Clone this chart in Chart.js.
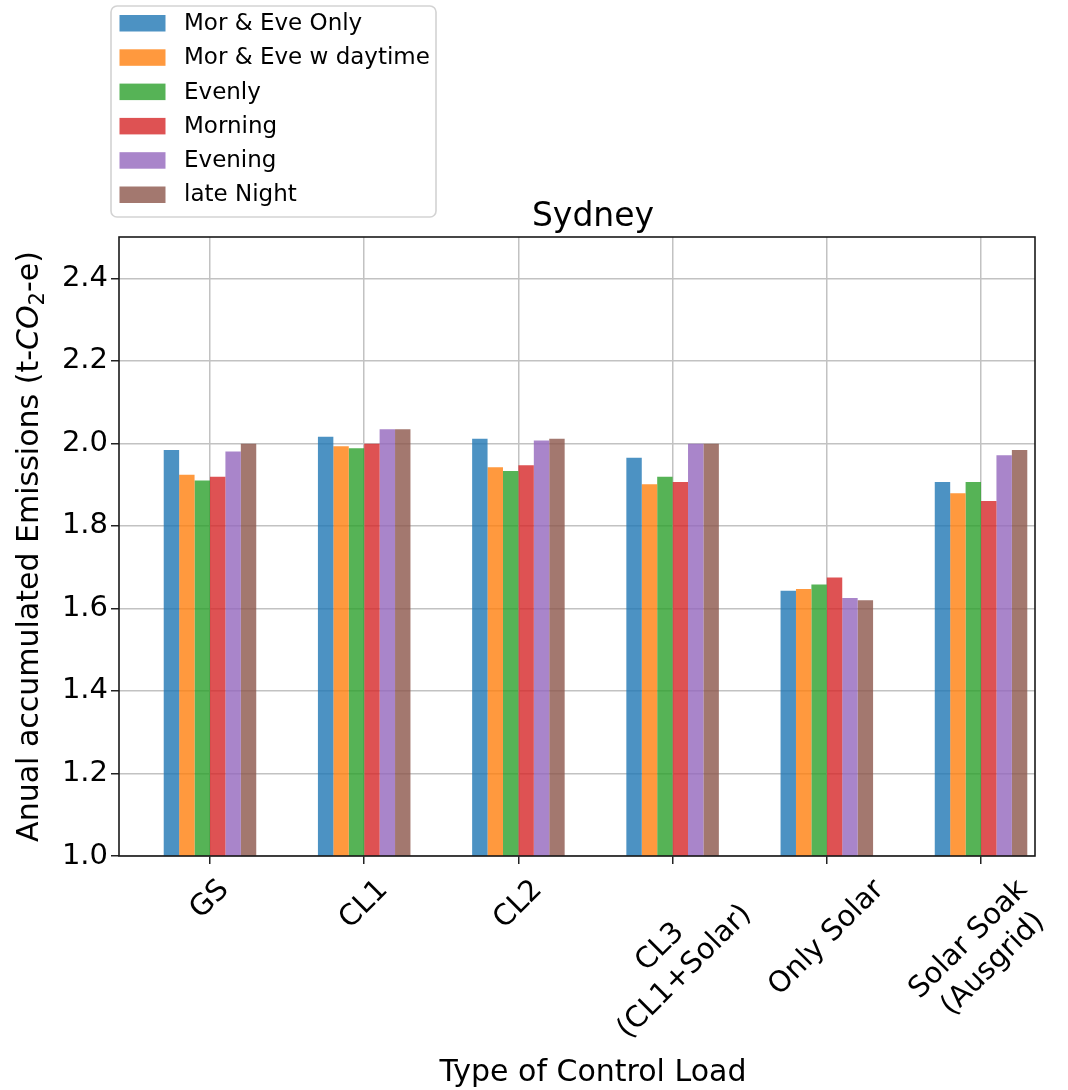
<!DOCTYPE html>
<html>
<head>
<meta charset="utf-8">
<script src="https://cdn.jsdelivr.net/npm/chart.js@4.4.1/dist/chart.umd.min.js"></script>
<style>
  html, body { margin: 0; padding: 0; background: #ffffff; }
  #wrap { width: 1068px; height: 1090px; }
</style>
</head>
<body>
<div id="wrap"><canvas id="chart" width="1068" height="1090"></canvas></div>
<script>
// Control-load categories (multi-line entries are drawn on two lines)
const categories = ['GS', 'CL1', 'CL2', ['CL3', '(CL1+Solar)'], 'Only Solar', ['Solar Soak', '(Ausgrid)']];

// Series names
const seriesNames = ['Mor & Eve Only', 'Mor & Eve w daytime', 'Evenly', 'Morning', 'Evening', 'late Night'];

// Annual accumulated emissions (t-CO2-e) per control-load type
const morEveOnly    = [1.984, 2.016, 2.011, 1.965, 1.643, 1.906];
const morEveDaytime = [1.924, 1.993, 1.942, 1.901, 1.647, 1.879];
const evenly        = [1.910, 1.988, 1.933, 1.919, 1.658, 1.906];
const morning       = [1.919, 1.999, 1.947, 1.906, 1.675, 1.860];
const evening       = [1.980, 2.034, 2.007, 1.999, 1.625, 1.971];
const lateNight     = [1.999, 2.034, 2.011, 1.999, 1.620, 1.984];

// Y-axis tick values
const yTicks = [1.0, 1.2, 1.4, 1.6, 1.8, 2.0, 2.2, 2.4];

const chartTitle = 'Sydney';
const xAxisTitle = 'Type of Control Load';

const seriesValues = [morEveOnly, morEveDaytime, evenly, morning, evening, lateNight];
const seriesColors = [
  'rgba(31,119,180,0.8)', 'rgba(255,127,14,0.8)', 'rgba(44,160,44,0.8)',
  'rgba(214,39,40,0.8)', 'rgba(148,103,189,0.8)', 'rgba(140,86,75,0.8)'
];

const FONT = '"DejaVu Sans", "Liberation Sans", sans-serif';
Chart.defaults.font.family = FONT;
Chart.defaults.color = '#000000';

const datasets = seriesNames.map((name, s) => ({
  label: name,
  data: seriesValues[s].map((v, i) => ({ x: i, y: v })),
  backgroundColor: seriesColors[s],
  borderWidth: 0,
  barPercentage: 1.0,
  categoryPercentage: 0.6
}));

// Rotated, centred category labels under the x axis
const xCategoryLabels = {
  id: 'xCategoryLabels',
  afterDraw(chart) {
    const { ctx } = chart;
    const xs = chart.scales.x;
    const area = chart.chartArea;
    const size = 29, lh = size * 1.2;
    const top = area.bottom + 17;
    const c = Math.SQRT1_2;
    ctx.save();
    ctx.font = size + 'px ' + FONT;
    ctx.fillStyle = '#000000';
    ctx.textAlign = 'center';
    ctx.textBaseline = 'middle';
    categories.forEach((cat, i) => {
      const lines = Array.isArray(cat) ? cat : [cat];
      const w = Math.max(...lines.map(l => ctx.measureText(l).width));
      const h = lines.length * lh;
      const ext = (w + h) * c;
      const cx = xs.getPixelForValue(i);
      const cy = top + ext / 2;
      ctx.save();
      ctx.translate(cx, cy);
      ctx.rotate(-Math.PI / 4);
      lines.forEach((l, k) => {
        ctx.fillText(l, 0, (k - (lines.length - 1) / 2) * lh);
      });
      ctx.restore();
    });
    ctx.restore();
  }
};

// Plot title and x-axis title
const titles = {
  id: 'titles',
  afterDraw(chart) {
    const { ctx } = chart;
    const cx = 593;
    ctx.save();
    ctx.fillStyle = '#000000';
    ctx.textAlign = 'center';
    ctx.textBaseline = 'alphabetic';
    ctx.font = '33px ' + FONT;
    ctx.fillText(chartTitle, cx, 226);
    ctx.font = '30px ' + FONT;
    ctx.fillText(xAxisTitle, cx, 1081);
    ctx.restore();
  }
};

// Y-axis title with italic CO and subscript 2
const yAxisTitle = {
  id: 'yAxisTitle',
  afterDraw(chart) {
    const { ctx, chartArea: area } = chart;
    const size = 30;
    const parts = [
      { t: 'Anual accumulated Emissions (t-', f: size + 'px ' + FONT, dy: 0 },
      { t: 'CO', f: 'italic ' + size + 'px ' + FONT, dy: 0 },
      { t: '2', f: Math.round(size * 0.7) + 'px ' + FONT, dy: size * 0.2 },
      { t: '-e)', f: size + 'px ' + FONT, dy: 0 }
    ];
    ctx.save();
    ctx.translate(38, (area.top + area.bottom) / 2);
    ctx.rotate(-Math.PI / 2);
    ctx.fillStyle = '#000000';
    ctx.textAlign = 'left';
    ctx.textBaseline = 'alphabetic';
    let total = 0;
    parts.forEach(p => { ctx.font = p.f; p.w = ctx.measureText(p.t).width; total += p.w; });
    let x = -total / 2;
    parts.forEach(p => { ctx.font = p.f; ctx.fillText(p.t, x, p.dy); x += p.w; });
    ctx.restore();
  }
};

// Boxed legend in the upper-left corner, one entry per row
const boxLegend = {
  id: 'boxLegend',
  afterDraw(chart) {
    const { ctx } = chart;
    const bx = 111, by = 6, bw = 325, bh = 211, r = 6;
    ctx.save();
    ctx.beginPath();
    ctx.roundRect(bx, by, bw, bh, r);
    ctx.fillStyle = 'rgba(255,255,255,0.8)';
    ctx.fill();
    ctx.strokeStyle = '#d3d3d3';
    ctx.lineWidth = 1.6;
    ctx.stroke();
    ctx.font = '23px ' + FONT;
    ctx.textAlign = 'left';
    ctx.textBaseline = 'middle';
    chart.data.datasets.forEach((ds, i) => {
      const y = 15 + i * 34.3;
      ctx.fillStyle = ds.backgroundColor;
      ctx.fillRect(119.5, y, 46, 16.5);
      ctx.fillStyle = '#000000';
      ctx.fillText(ds.label, 184, y + 9);
    });
    ctx.restore();
  }
};

// Full axes frame
const axesFrame = {
  id: 'axesFrame',
  afterDraw(chart) {
    const { ctx, chartArea: a } = chart;
    ctx.save();
    ctx.strokeStyle = '#1a1a1a';
    ctx.lineWidth = 1.6;
    ctx.strokeRect(a.left, a.top, a.right - a.left, a.bottom - a.top);
    ctx.restore();
  }
};

new Chart(document.getElementById('chart'), {
  type: 'bar',
  data: { datasets },
  plugins: [xCategoryLabels, titles, yAxisTitle, boxLegend, axesFrame],
  options: {
    responsive: false,
    animation: false,
    layout: { padding: { top: 237, left: 39, right: 33, bottom: 0 } },
    plugins: {
      legend: { display: false },
      tooltip: { enabled: false },
      title: { display: false }
    },
    scales: {
      x: {
        type: 'linear',
        min: -0.59,
        max: 5.35,
        offset: false,
        z: 1,
        afterBuildTicks(scale) { scale.ticks = categories.map((_, i) => ({ value: i })); },
        afterFit(scale) { scale.height = 234; },
        ticks: { display: false },
        grid: {
          offset: false,
          color: '#c2c2c2',
          lineWidth: 1.5,
          drawTicks: true,
          tickLength: 8,
          tickColor: '#222222',
          tickWidth: 1.5
        },
        border: { display: false }
      },
      y: {
        min: 1.0,
        max: 2.5,
        z: 1,
        afterBuildTicks(scale) { scale.ticks = yTicks.map(v => ({ value: v })); },
        afterFit(scale) { scale.width = 80; },
        ticks: {
          color: '#000000',
          font: { size: 29, family: FONT },
          padding: 3,
          callback: v => Number(v).toFixed(1)
        },
        grid: {
          color: '#c2c2c2',
          lineWidth: 1.5,
          drawTicks: true,
          tickLength: 8,
          tickColor: '#222222',
          tickWidth: 1.5
        },
        border: { display: false }
      }
    }
  }
});
</script>
</body>
</html>
